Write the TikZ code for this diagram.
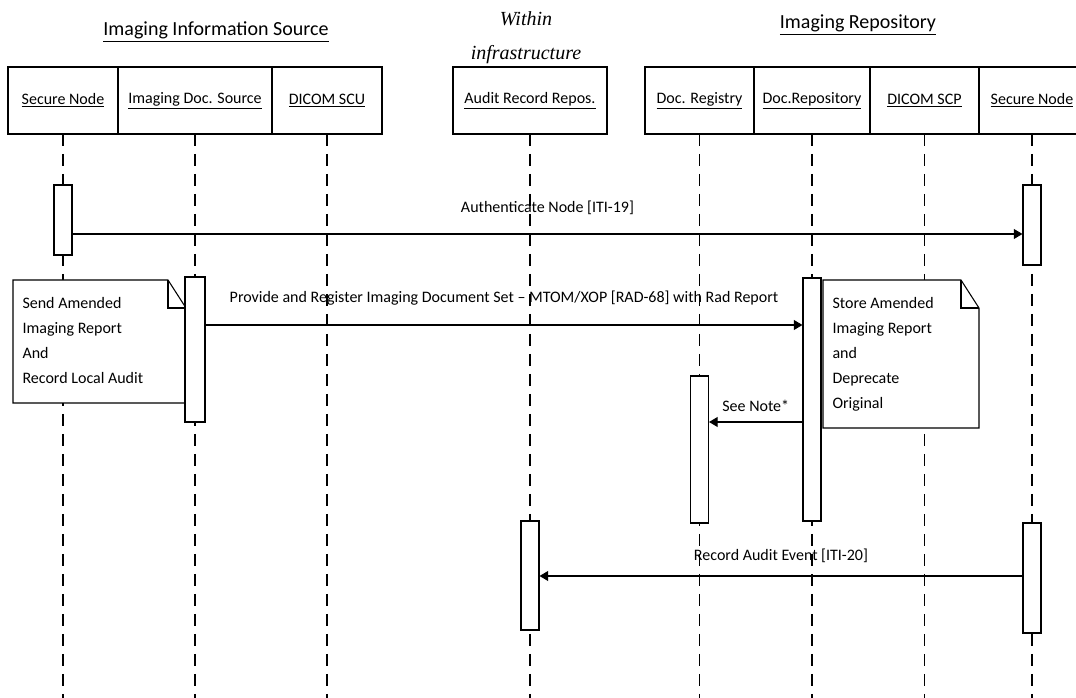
\documentclass[tikz,border=0pt]{standalone}
\usepackage{fontspec}
\setmainfont{Carlito}
\newfontfamily\infrafont{Liberation Serif Italic}
\usetikzlibrary{arrows.meta,positioning}

\begin{document}
\begin{tikzpicture}[x=0.75pt,y=-0.75pt,line width=0.8pt,
    font=\fontsize{12}{14}\selectfont,
    head/.style={draw, minimum height=50.25pt, inner sep=0pt, outer sep=0pt},
    bar/.style={draw, fill=white, minimum width=13.5pt, inner sep=0pt},
    life/.style={dash pattern=on 9pt off 6pt},
    msg/.style={-{Triangle[length=6.5pt,width=7.5pt]}},
    notetext/.style={align=left, anchor=north west, inner sep=0pt, font=\fontsize{12}{18.75}\selectfont}]
        \useasboundingbox (0,0) rectangle (1076,698);
        \clip (0,0) rectangle (1076,698);

        % Group titles
        \node[font=\fontsize{15}{18}\selectfont] (tSource) at (216,32) {\underline{Imaging Information Source}};
        \node[font=\infrafont\fontsize{15}{25.5}\selectfont, align=center] (tInfra) at (526,38) {Within\\infrastructure};
        \node[font=\fontsize{15}{18}\selectfont] (tRepo) at (858,25) {\underline{Imaging Repository}};

        % Actor boxes
        \node[head, minimum width=82.5pt, anchor=north west] (hSecA) at (8,67) {\underline{Secure Node}};
        \node[head, minimum width=115.5pt, right=0pt of hSecA] (hDocSrc) {\underline{Imaging Doc. Source}};
        \node[head, minimum width=82.5pt, right=0pt of hDocSrc] (hScu) {\underline{DICOM SCU}};
        \node[head, minimum width=115.5pt, anchor=north west] (hAudit) at (453,67) {\underline{Audit Record Repos.}};
        \node[head, minimum width=81.75pt, anchor=north west] (hReg) at (645,67) {\underline{Doc. Registry}};
        \node[head, minimum width=87pt, right=0pt of hReg] (hRepo) {\underline{Doc.Repository}};
        \node[head, minimum width=81.75pt, right=0pt of hRepo] (hScp) {\underline{DICOM SCP}};
        \node[head, minimum width=79.5pt, right=0pt of hScp] (hSecB) {\underline{Secure Node}};

        % Lifelines
        \foreach \h in {hSecA,hDocSrc,hScu,hAudit,hReg,hRepo,hScp,hSecB} {
          \draw[life] (\h.south) -- (\h.south |- 0,700);
        }

        % Notes
        \draw[fill=white] (13,280) -- (168,280) -- (186,308) -- (186,403) -- (13,403) -- cycle;
        \draw (168,280) -- (168,308) -- (186,308);
        \node[notetext] (nSend) at (22,297) {Send Amended\\Imaging Report\\And\\Record Local Audit};
        \draw[fill=white] (823,280) -- (961,280) -- (979,308) -- (979,428) -- (823,428) -- cycle;
        \draw (961,280) -- (961,308) -- (979,308);
        \node[notetext] (nStore) at (832,297) {Store Amended\\Imaging Report\\and\\Deprecate\\Original};

        % Activation bars
        \node[bar, minimum height=52.5pt] (aSecA) at (hSecA.south |- 0,220) {};
        \node[bar, minimum height=60pt] (aSecB) at (hSecB.south |- 0,225) {};
        \node[bar, minimum height=108.75pt, minimum width=15pt] (aDocSrc) at (hDocSrc.south |- 0,349.5) {};
        \node[bar, minimum height=182.25pt] (aRepo) at (hRepo.south |- 0,399.5) {};
        \node[bar, minimum height=110.25pt] (aReg) at (hReg.south |- 0,449.5) {};
        \node[bar, minimum height=81.75pt] (aAudit) at (hAudit.south |- 0,575.5) {};
        \node[bar, minimum height=82.5pt] (aSecC) at (hSecB.south |- 0,578) {};

        % Messages
        \draw[msg] (aSecA.east |- 0,234) -- node[above=11pt] {Authenticate Node [ITI-19]} (aSecB.west |- 0,234);
        \draw[msg] (aDocSrc.east |- 0,325) -- node[above=11pt] {Provide and Register Imaging Document Set – MTOM/XOP [RAD-68] with Rad Report} (aRepo.west |- 0,325);
        \draw[msg] (aRepo.west |- 0,422) -- node[above=4pt] {See Note*} (aReg.east |- 0,422);
        \draw[msg] (aSecC.west |- 0,576) -- node[above=6pt] {Record Audit Event [ITI-20]} (aAudit.east |- 0,576);
      \end{tikzpicture}
\end{document}
